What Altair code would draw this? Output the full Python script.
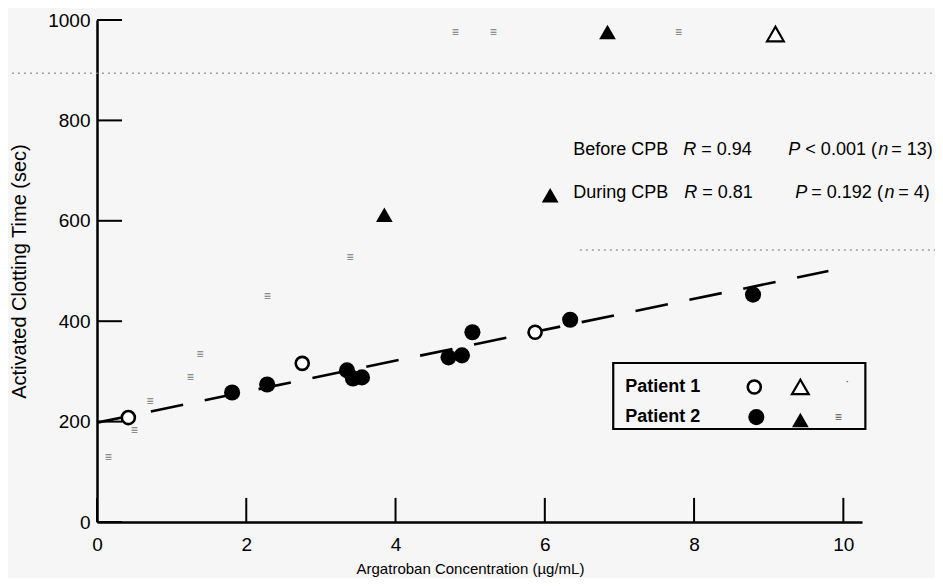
import altair as alt
import pandas as pd

# ---------------- data ----------------
p1_before_x = [0.42, 2.75, 5.87]
p1_before_y = [208, 316, 378]
p2_before_x = [1.81, 2.28, 3.35, 3.43, 3.55, 4.71, 4.89, 5.03, 6.34, 8.79]
p2_before_y = [258, 274, 302, 286, 288, 328, 332, 378, 403, 453]
p2_during_x = [3.85, 6.84]
p2_during_y = [612, 976]
p1_during_x = [9.09]
p1_during_y = [972]
faint_x = [0.15, 0.50, 0.71, 1.25, 1.38, 2.28, 3.39, 4.80, 5.31, 7.79]
faint_y = [129, 184, 242, 288, 334, 451, 527, 976, 976, 976]
fit_x = [0, 9.8]
fit_y = [198, 500]
x_ticks = [0, 2, 4, 6, 8, 10]
y_ticks = [0, 200, 400, 600, 800, 1000]

FONT = "Liberation Sans, Arial, sans-serif"

xs = alt.Scale(domain=[0, 10.25], nice=False, zero=False)
ys = alt.Scale(domain=[0, 1000], nice=False, zero=False)

xaxis = alt.Axis(values=x_ticks, ticks=False, grid=False, domainColor="black",
                 domainWidth=2.5, labelFontSize=19, labelPadding=13, labelColor="black",
                 labelFont=FONT, labelFlush=False, labelOverlap=False, format="d",
                 title="Argatroban Concentration (µg/mL)", titleFontSize=15,
                 titleFont=FONT, titleFontWeight="normal", titleColor="black",
                 titlePadding=7, titleX=373)
yaxis = alt.Axis(values=y_ticks, ticks=False, grid=False, domainColor="black",
                 domainWidth=2.5, labelFontSize=19, labelPadding=7, labelColor="black",
                 labelFont=FONT, labelFlush=False, labelOverlap=False, format="d",
                 title="Activated Clotting Time (sec)", titleFontSize=20,
                 titleFont=FONT, titleFontWeight="normal", titleColor="black",
                 titlePadding=18)

X = alt.X("x:Q", scale=xs, axis=xaxis)
Y = alt.Y("y:Q", scale=ys, axis=yaxis)


def df(xv, yv):
    return pd.DataFrame({"x": xv, "y": yv})


# faint dotted scan lines
faint_rules = pd.DataFrame({"x": [-1.3, 6.47], "x2": [11.4, 11.4], "y": [894, 542]})
rules = alt.Chart(faint_rules).mark_rule(color="#888888", strokeDash=[2, 4],
                                          strokeWidth=1.5, opacity=0.8).encode(
    x=X, x2="x2:Q", y=Y)

# regression line
fit = alt.Chart(df(fit_x, fit_y)).mark_line(color="black", strokeWidth=2.6,
                                            strokeDash=[33, 22]).encode(x=X, y=Y)

# inward ticks
xt = pd.DataFrame({"x": x_ticks, "y": [0] * len(x_ticks), "y2": [48] * len(x_ticks)})
yt = pd.DataFrame({"y": y_ticks, "x": [0] * len(y_ticks), "x2": [0.335] * len(y_ticks)})
xtick = alt.Chart(xt).mark_rule(color="black", strokeWidth=2).encode(x=X, y=Y, y2="y2:Q")
ytick = alt.Chart(yt).mark_rule(color="black", strokeWidth=2).encode(x=X, x2="x2:Q", y=Y)

open_c = alt.Chart(df(p1_before_x, p1_before_y)).mark_point(
    shape="circle", size=170, fill="white", fillOpacity=1, stroke="black",
    strokeWidth=2.6, opacity=1).encode(x=X, y=Y)
fill_c = alt.Chart(df(p2_before_x, p2_before_y)).mark_circle(
    size=260, color="black", opacity=1).encode(x=X, y=Y)
fill_t = alt.Chart(df(p2_during_x, p2_during_y)).mark_point(
    shape="triangle-up", size=280, filled=True, color="black", opacity=1).encode(x=X, y=Y)
open_t = alt.Chart(df(p1_during_x, p1_during_y)).mark_point(
    shape="triangle-up", size=280, fill="white", fillOpacity=1, stroke="black",
    strokeWidth=2.2, opacity=1).encode(x=X, y=Y)
faint = alt.Chart(df(faint_x, faint_y).assign(t="≡")).mark_text(
    fontSize=12, color="#555555", opacity=0.8, font=FONT).encode(x=X, y=Y, text="t:N")

# annotations
ann = pd.DataFrame({
    "x": [6.381, 7.855, 8.097, 9.263, 9.491, 10.469, 10.643,
          6.381, 7.869, 8.110, 9.357, 9.571, 10.550, 10.737],
    "y": [741] * 7 + [655] * 7,
    "t": ["Before CPB", "R", "= 0.94", "P", "< 0.001 (", "n", "= 13)",
          "During CPB", "R", "= 0.81", "P", "= 0.192 (", "n", "= 4)"],
    "s": ["normal", "italic", "normal", "italic", "normal", "italic", "normal"] * 2,
})
ann_n = alt.Chart(ann[ann.s == "normal"]).mark_text(
    align="left", baseline="middle", fontSize=18, font=FONT, color="black").encode(
    x=X, y=Y, text="t:N")
ann_i = alt.Chart(ann[ann.s == "italic"]).mark_text(
    align="left", baseline="middle", fontSize=18, font=FONT, fontStyle="italic",
    color="black").encode(x=X, y=Y, text="t:N")
ann_tri = alt.Chart(df([6.072], [651])).mark_point(
    shape="triangle-up", size=280, filled=True, color="black", opacity=1).encode(x=X, y=Y)

# legend box
box = alt.Chart(pd.DataFrame({"x": [6.917], "x2": [10.295], "y": [185.3], "y2": [316.7]})).mark_rect(
    fill="white", fillOpacity=0, stroke="black", strokeWidth=2.2).encode(
    x=X, x2="x2:Q", y=Y, y2="y2:Q")
leg_txt = alt.Chart(pd.DataFrame({"x": [7.078, 7.078], "y": [269, 209],
                                  "t": ["Patient 1", "Patient 2"]})).mark_text(
    align="left", baseline="middle", fontSize=18, fontWeight="bold", font=FONT,
    color="black").encode(x=X, y=Y, text="t:N")
leg_oc = alt.Chart(df([8.807], [269])).mark_point(
    shape="circle", size=170, fill="white", fillOpacity=1, stroke="black",
    strokeWidth=2.6, opacity=1).encode(x=X, y=Y)
leg_ot = alt.Chart(df([9.424], [269])).mark_point(
    shape="triangle-up", size=280, fill="white", fillOpacity=1, stroke="black",
    strokeWidth=2.2, opacity=1).encode(x=X, y=Y)
leg_fc = alt.Chart(df([8.834], [209])).mark_circle(size=260, color="black", opacity=1).encode(x=X, y=Y)
leg_ft = alt.Chart(df([9.424], [203])).mark_point(
    shape="triangle-up", size=280, filled=True, color="black", opacity=1).encode(x=X, y=Y)
leg_f = alt.Chart(df([9.933, 10.054], [209, 281]).assign(t=["≡", "·"])).mark_text(
    fontSize=12, color="#555555", font=FONT).encode(x=X, y=Y, text="t:N")

chart = alt.layer(
    rules, fit, xtick, ytick, faint, open_c, fill_c, fill_t, open_t,
    ann_n, ann_i, ann_tri, box, leg_txt, leg_oc, leg_ot, leg_fc, leg_ft, leg_f
).properties(
    width=765, height=502,
    autosize=alt.AutoSizeParams(type="none"),
    padding={"left": 89, "top": 12, "right": 73, "bottom": 56},
    background="#f6f6f6",
).configure_view(stroke=None)

chart.save("out.html", embed_options={"renderer": "svg", "actions": False})
